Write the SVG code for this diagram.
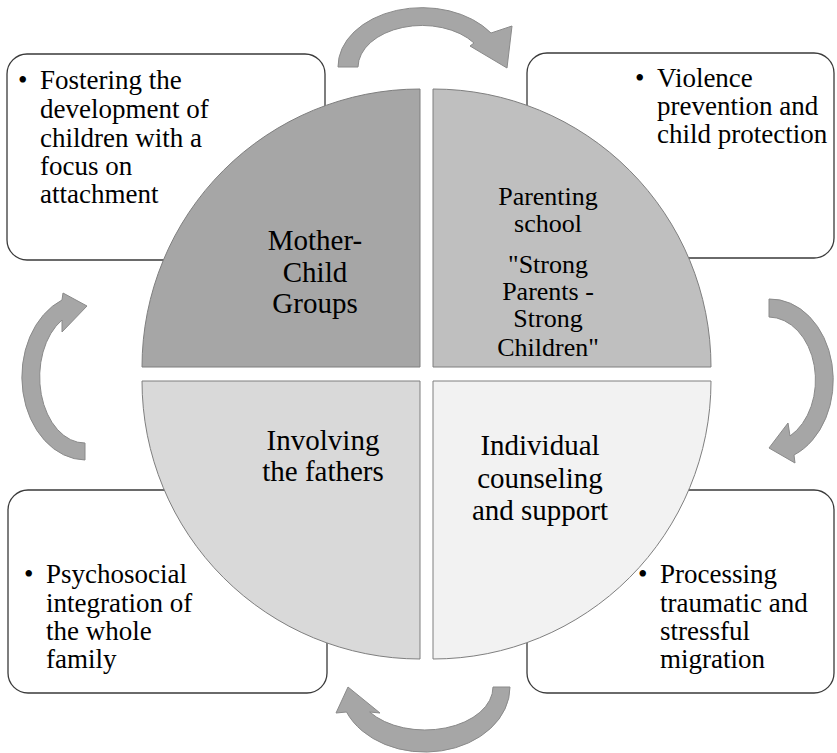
<svg xmlns="http://www.w3.org/2000/svg" width="837" height="753" viewBox="0 0 837 753">
<style>
.box{fill:#fff;stroke:#3a3a3a;stroke-width:1.3}
.arr{fill:#a6a6a6;stroke:#8a8a8a;stroke-width:1}
.q{stroke:#7f7f7f;stroke-width:1}
text{font-family:"Liberation Serif","Times New Roman",serif;fill:#000}
.bt{font-size:27px}
.ql{font-size:29px;text-anchor:middle}
.qs{font-size:26px;text-anchor:middle}
</style>
<rect width="837" height="753" fill="#fff"/>
<g id="box-tl">
<rect class="box" x="7" y="54" width="318" height="206" rx="20"/>
<text class="bt"><tspan x="18" y="89">•</tspan><tspan x="40" y="89">Fostering the</tspan><tspan x="40" y="118">development of</tspan><tspan x="40" y="147">children with a</tspan><tspan x="40" y="175">focus on</tspan><tspan x="40" y="203">attachment</tspan></text>
</g>
<g id="box-tr">
<rect class="box" x="527" y="53" width="307" height="205" rx="20"/>
<text class="bt"><tspan x="635" y="87">•</tspan><tspan x="657" y="87">Violence</tspan><tspan x="657" y="115">prevention and</tspan><tspan x="657" y="143">child protection</tspan></text>
</g>
<g id="box-bl">
<rect class="box" x="8" y="490" width="319" height="203" rx="20"/>
<text class="bt"><tspan x="24" y="583">•</tspan><tspan x="46" y="583">Psychosocial</tspan><tspan x="46" y="612">integration of</tspan><tspan x="46" y="640">the whole</tspan><tspan x="46" y="668">family</tspan></text>
</g>
<g id="box-br">
<rect class="box" x="527" y="490" width="307" height="203" rx="20"/>
<text class="bt"><tspan x="638" y="583">•</tspan><tspan x="660" y="583">Processing</tspan><tspan x="660" y="612">traumatic and</tspan><tspan x="660" y="640">stressful</tspan><tspan x="660" y="668">migration</tspan></text>
</g>
<g id="connectors">
<path class="arr" d="M338,67 A84,59 0 0 1 491,33 L512,26 L507,68 L470,46 L474,43 A64,42 0 0 0 358,67 Z"/>
<path class="arr" d="M769,299 A63,81 0 0 1 794,455 L795,463 L769,448 L788,423 L790,436 A47,63 0 0 0 769,317 Z"/>
<path class="arr" d="M510,687 A85,65 0 0 1 346.5,712 L336,713 L348,687 L380,713 L369.7,712 A68,43 0 0 0 493,687 Z"/>
<path class="arr" d="M85,460 A64,83 0 0 1 62,300 L63,293 L87,306 L62,332 L62,320 A45,66 0 0 0 85,443 Z"/>
</g>
<g id="q-tl">
<path class="q" fill="#a6a6a6" d="M420,367 L142,367 A278,278 0 0 1 420,89 Z"/>
<text class="ql"><tspan x="315" y="250">Mother-</tspan><tspan x="315" y="282">Child</tspan><tspan x="315" y="313">Groups</tspan></text>
</g>
<g id="q-tr">
<path class="q" fill="#bfbfbf" d="M433,367 L433,89 A278,278 0 0 1 711,367 Z"/>
<text class="qs"><tspan x="548" y="205">Parenting</tspan><tspan x="548" y="232">school</tspan><tspan x="548" y="273">"Strong</tspan><tspan x="548" y="300">Parents -</tspan><tspan x="548" y="327">Strong</tspan><tspan x="548" y="356">Children"</tspan></text>
</g>
<g id="q-bl">
<path class="q" fill="#d9d9d9" d="M420,381 L420,659 A278,278 0 0 1 142,381 Z"/>
<text class="ql"><tspan x="323" y="450">Involving</tspan><tspan x="323" y="481">the fathers</tspan></text>
</g>
<g id="q-br">
<path class="q" fill="#f2f2f2" d="M433,381 L711,381 A278,278 0 0 1 433,659 Z"/>
<text class="ql"><tspan x="540" y="455">Individual</tspan><tspan x="540" y="488">counseling</tspan><tspan x="540" y="520">and support</tspan></text>
</g>
</svg>
